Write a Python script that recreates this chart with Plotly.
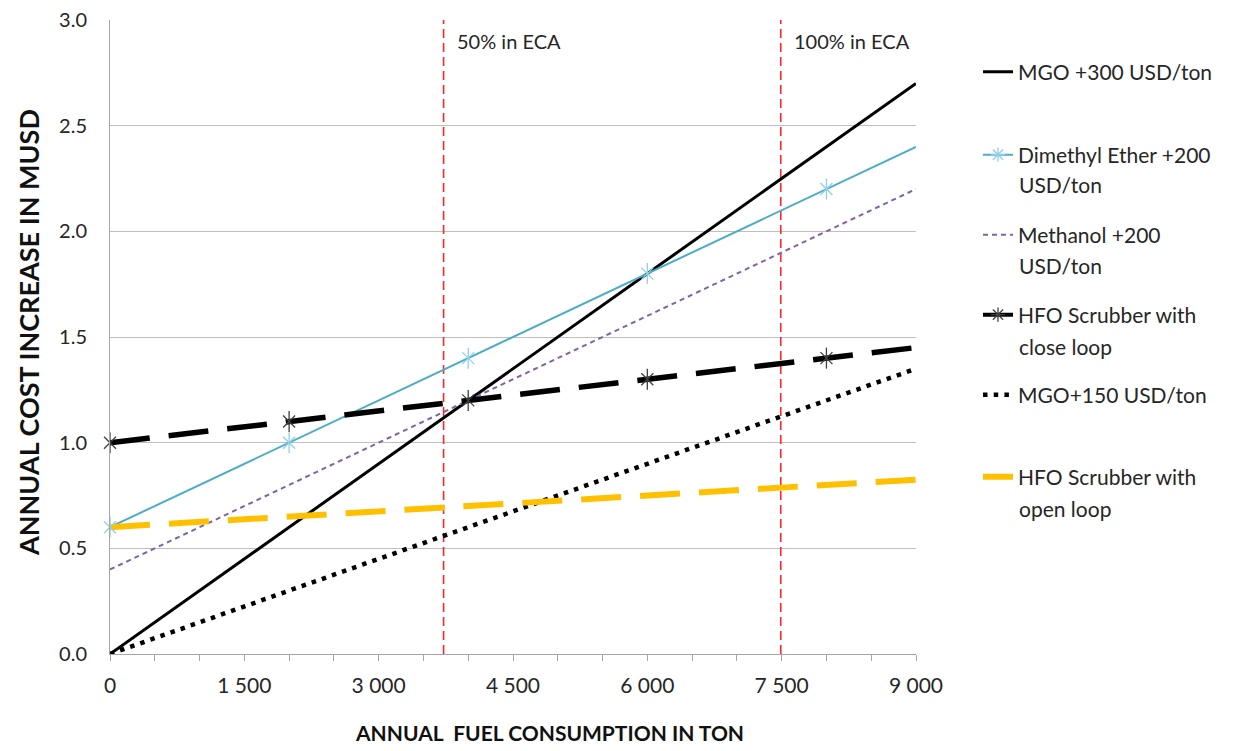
import plotly.graph_objects as go

# ---------------- data ----------------
fuel_ton = [0, 2000, 4000, 6000, 8000, 9000]
mgo_300 = [0.0, 0.6, 1.2, 1.8, 2.4, 2.7]
dme_200 = [0.6, 1.0, 1.4, 1.8, 2.2, 2.4]
methanol_200 = [0.4, 0.8, 1.2, 1.6, 2.0, 2.2]
hfo_close = [1.0, 1.1, 1.2, 1.3, 1.4, 1.45]
mgo_150 = [0.0, 0.3, 0.6, 0.9, 1.2, 1.35]
hfo_open = [0.6, 0.65, 0.7, 0.75, 0.8, 0.825]

marker_x = [0, 2000, 4000, 6000, 8000]
dme_marker_y = [0.6, 1.0, 1.4, 1.8, 2.2]
hfo_close_marker_y = [1.0, 1.1, 1.2, 1.3, 1.4]

eca_x = [3725, 7490]
eca_labels = ["50% in ECA", "100% in ECA"]

x_tickvals = [0, 1500, 3000, 4500, 6000, 7500, 9000]
x_ticktext = ["0", "1 500", "3 000", "4 500", "6 000", "7 500", "9 000"]
y_tickvals = [0, 0.5, 1.0, 1.5, 2.0, 2.5, 3.0]

FONT = "Lato, 'Open Sans', sans-serif"
TXT = "#262626"
DME_MK = "#8FD0E8"
HFO_MK = "#404040"

# plot area in screenshot pixels (page has 8px body margin)
PL, PR, PT, PB = 110, 916, 20, 654
PW, PH = PR - PL, PB - PT


def px_x(p):
    return (p - PL) / PW


def px_y(p):
    return 1 - (p - PT) / PH


fig = go.Figure()

# red ECA reference lines
for xv in eca_x:
    fig.add_trace(go.Scatter(x=[xv, xv], y=[0, 3], mode="lines",
                             line=dict(color="#FF2626", width=1.6, dash="9px,5px"),
                             showlegend=False, hoverinfo="skip"))

series = [
    ("MGO +300 USD/ton", mgo_300, dict(color="#000000", width=3), "legend", None),
    ("Dimethyl Ether +200", dme_200, dict(color="#4BACC6", width=2), "legend2", DME_MK),
    ("Methanol +200", methanol_200, dict(color="#8064A2", width=2, dash="5px,4px"), "legend3", None),
    ("HFO Scrubber with", hfo_close, dict(color="#000000", width=5.5, dash="40px,19px"), "legend4", HFO_MK),
    ("MGO+150 USD/ton", mgo_150, dict(color="#000000", width=4.5, dash="4.5px,6.2px"), "legend5", None),
    ("HFO Scrubber with", hfo_open, dict(color="#FFC000", width=6, dash="40px,19px"), "legend6", None),
]

for name, ys, line, lg, mk in series:
    fig.add_trace(go.Scatter(x=fuel_ton, y=ys, mode="lines", name=name, line=line,
                             showlegend=(mk is None), legend=lg))
    if mk is not None:
        # legend-only entry with asterisk marker
        fig.add_trace(go.Scatter(x=[None], y=[None], mode="lines+markers", name=name,
                                 line=dict(color=line["color"], width=min(line["width"], 4)),
                                 marker=dict(symbol="asterisk-open", size=12, color=mk,
                                             line=dict(color=mk, width=1.3)),
                                 legend=lg, showlegend=True))

# asterisk markers on the chart (x + vertical bar)
for ys, col in [(dme_marker_y, DME_MK), (hfo_close_marker_y, HFO_MK)]:
    for sym, sz in [("x-thin-open", 12), ("line-ns-open", 15)]:
        fig.add_trace(go.Scatter(x=marker_x, y=ys, mode="markers",
                                 marker=dict(symbol=sym, size=sz, color=col,
                                             line=dict(color=col, width=1.3)),
                                 showlegend=False, cliponaxis=False, hoverinfo="skip"))

for xv, lab in zip(eca_x, eca_labels):
    fig.add_annotation(x=xv, y=3.0, xref="x", yref="y", text=lab, showarrow=False,
                       xanchor="left", yanchor="middle", xshift=11, yshift=-21,
                       font=dict(family=FONT, size=20, color=TXT))

# legends positioned individually
legend_y_first = {"legend": 72, "legend2": 155, "legend3": 235, "legend4": 315,
                  "legend5": 395, "legend6": 477}
legends = {}
for k, ypx in legend_y_first.items():
    legends[k] = dict(x=px_x(978), y=px_y(ypx), xanchor="left", yanchor="middle",
                      bgcolor="rgba(0,0,0,0)", borderwidth=0, itemwidth=30,
                      font=dict(family=FONT, size=21, color=TXT))

second_lines = [("USD/ton", 185), ("USD/ton", 265), ("close loop", 346), ("open loop", 508)]
for txt, ypx in second_lines:
    fig.add_annotation(x=px_x(1017), y=px_y(ypx), xref="paper", yref="paper",
                       text=txt, showarrow=False, xanchor="left", yanchor="middle",
                       font=dict(family=FONT, size=21, color=TXT))

# axis titles
fig.add_annotation(x=px_x(549), y=px_y(733), xref="paper", yref="paper",
                   xanchor="center", yanchor="middle",
                   text="ANNUAL\u00a0 FUEL CONSUMPTION IN TON", showarrow=False,
                   font=dict(family=FONT, size=21, color="#111111", weight="bold"))
fig.add_annotation(x=px_x(28), y=px_y(333), xref="paper", yref="paper",
                   xanchor="center", yanchor="middle",
                   text="ANNUAL COST INCREASE IN MUSD", showarrow=False, textangle=-90,
                   font=dict(family=FONT, size=27, color="#111111", weight="bold"))

W, H = 1230, 743
fig.update_layout(
    width=W, height=H,
    margin=dict(l=PL - 8, r=W - (PR - 8), t=PT - 8, b=H - (PB - 8), autoexpand=False),
    paper_bgcolor="white", plot_bgcolor="white",
    font=dict(family=FONT, size=21, color=TXT),
    showlegend=True,
    **legends,
)
fig.update_xaxes(range=[0, 9000], tickmode="array", tickvals=x_tickvals, ticktext=x_ticktext,
                 ticks="outside", ticklen=6, tickcolor="#A6A6A6", showgrid=False,
                 showline=True, linecolor="#A6A6A6", linewidth=1, zeroline=False,
                 ticklabelstandoff=7, automargin=False, ticklabeloverflow="allow",
                 minor=dict(tickmode="linear", tick0=0, dtick=500, ticks="outside", ticklen=6,
                            tickcolor="#A6A6A6", showgrid=False),
                 tickfont=dict(family=FONT, size=21, color=TXT))
fig.update_yaxes(range=[0, 3], tickmode="array", tickvals=y_tickvals, tickformat=".1f",
                 showgrid=True, gridcolor="#BFBFBF", gridwidth=1, ticks="",
                 showline=True, linecolor="#A6A6A6", linewidth=1, zeroline=False,
                 ticklabelstandoff=18, automargin=False, ticklabeloverflow="allow",
                 tickfont=dict(family=FONT, size=20, color=TXT))

fig.write_html("out.html")
